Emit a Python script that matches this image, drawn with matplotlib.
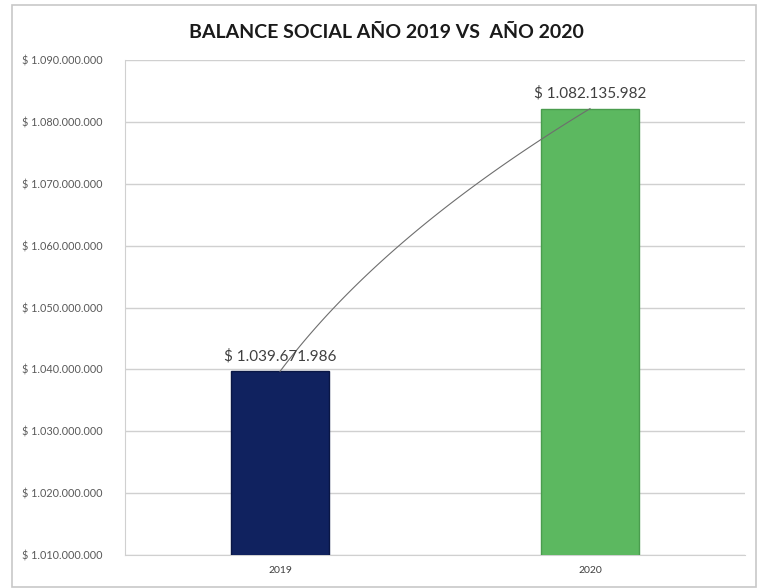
import numpy as np
import matplotlib
matplotlib.use("Agg")
import matplotlib.pyplot as plt
from matplotlib.patches import Rectangle
from matplotlib.ticker import FuncFormatter, MultipleLocator

plt.rcParams['font.family'] = ['Lato', 'DejaVu Sans']

# data
years = ['2019', '2020']
values = [1039671986, 1082135982]
bar_colors = ['#10225f', '#5cb860']
edge_colors = ['#0a1745', '#4a9c4e']
y_min = 1010000000
y_max = 1090000000
y_step = 10000000


def money(v, pos=None):
    return '$ ' + f'{int(round(v)):,}'.replace(',', '.')


fig = plt.figure(figsize=(7.57, 5.88), dpi=100)
ax = fig.add_axes([125/757, 1 - 555/588, 620/757, 495/588])

x = np.arange(len(years))
ax.bar(x, values, width=0.316, color=bar_colors, edgecolor=edge_colors,
       linewidth=1.0, zorder=3)

for xi, v in zip(x, values):
    ax.text(xi, v + 1300000, money(v), ha='center', va='bottom',
            fontsize=11, color='#404040', zorder=5)

# curved connector between the two bar tops (quadratic bezier)
p0 = np.array([x[0], values[0]])
p2 = np.array([x[1], values[1]])
ctrl = np.array([x[0] + 0.33 * (x[1] - x[0]),
                 values[0] + 0.52 * (values[1] - values[0])])
t = np.linspace(0, 1, 100)[:, None]
curve = (1 - t) ** 2 * p0 + 2 * (1 - t) * t * ctrl + t ** 2 * p2
ax.plot(curve[:, 0], curve[:, 1], color='#6e6e6e', linewidth=0.8, zorder=4)

ax.set_xlim(-0.5, 1.5)
ax.set_ylim(y_min, y_max)
ax.yaxis.set_major_locator(MultipleLocator(y_step))
ax.yaxis.set_major_formatter(FuncFormatter(money))
ax.set_xticks(x)
ax.set_xticklabels(years)

ax.grid(axis='y', color='#d0d0d0', linewidth=1.0, zorder=0)
ax.set_axisbelow(True)
for s in ['top', 'right']:
    ax.spines[s].set_visible(False)
ax.spines['left'].set_color('#d0d0d0')
ax.spines['bottom'].set_color('#d0d0d0')
ax.tick_params(axis='y', length=0, pad=16, labelsize=7.8, labelcolor='#595959')
ax.tick_params(axis='x', length=0, pad=8, labelsize=7.5, labelcolor='#404040')

fig.text(386/757, 1 - 33/588, 'BALANCE SOCIAL AÑO 2019 VS  AÑO 2020',
         ha='center', va='center', fontsize=14, fontweight='bold', color='#1a1a1a')

fig.patches.append(Rectangle((12/757, 1/588), 744/757, 582/588,
                             transform=fig.transFigure, fill=False,
                             edgecolor='#c8c8c8', linewidth=1.2))

fig.savefig('out.png', dpi=100)
